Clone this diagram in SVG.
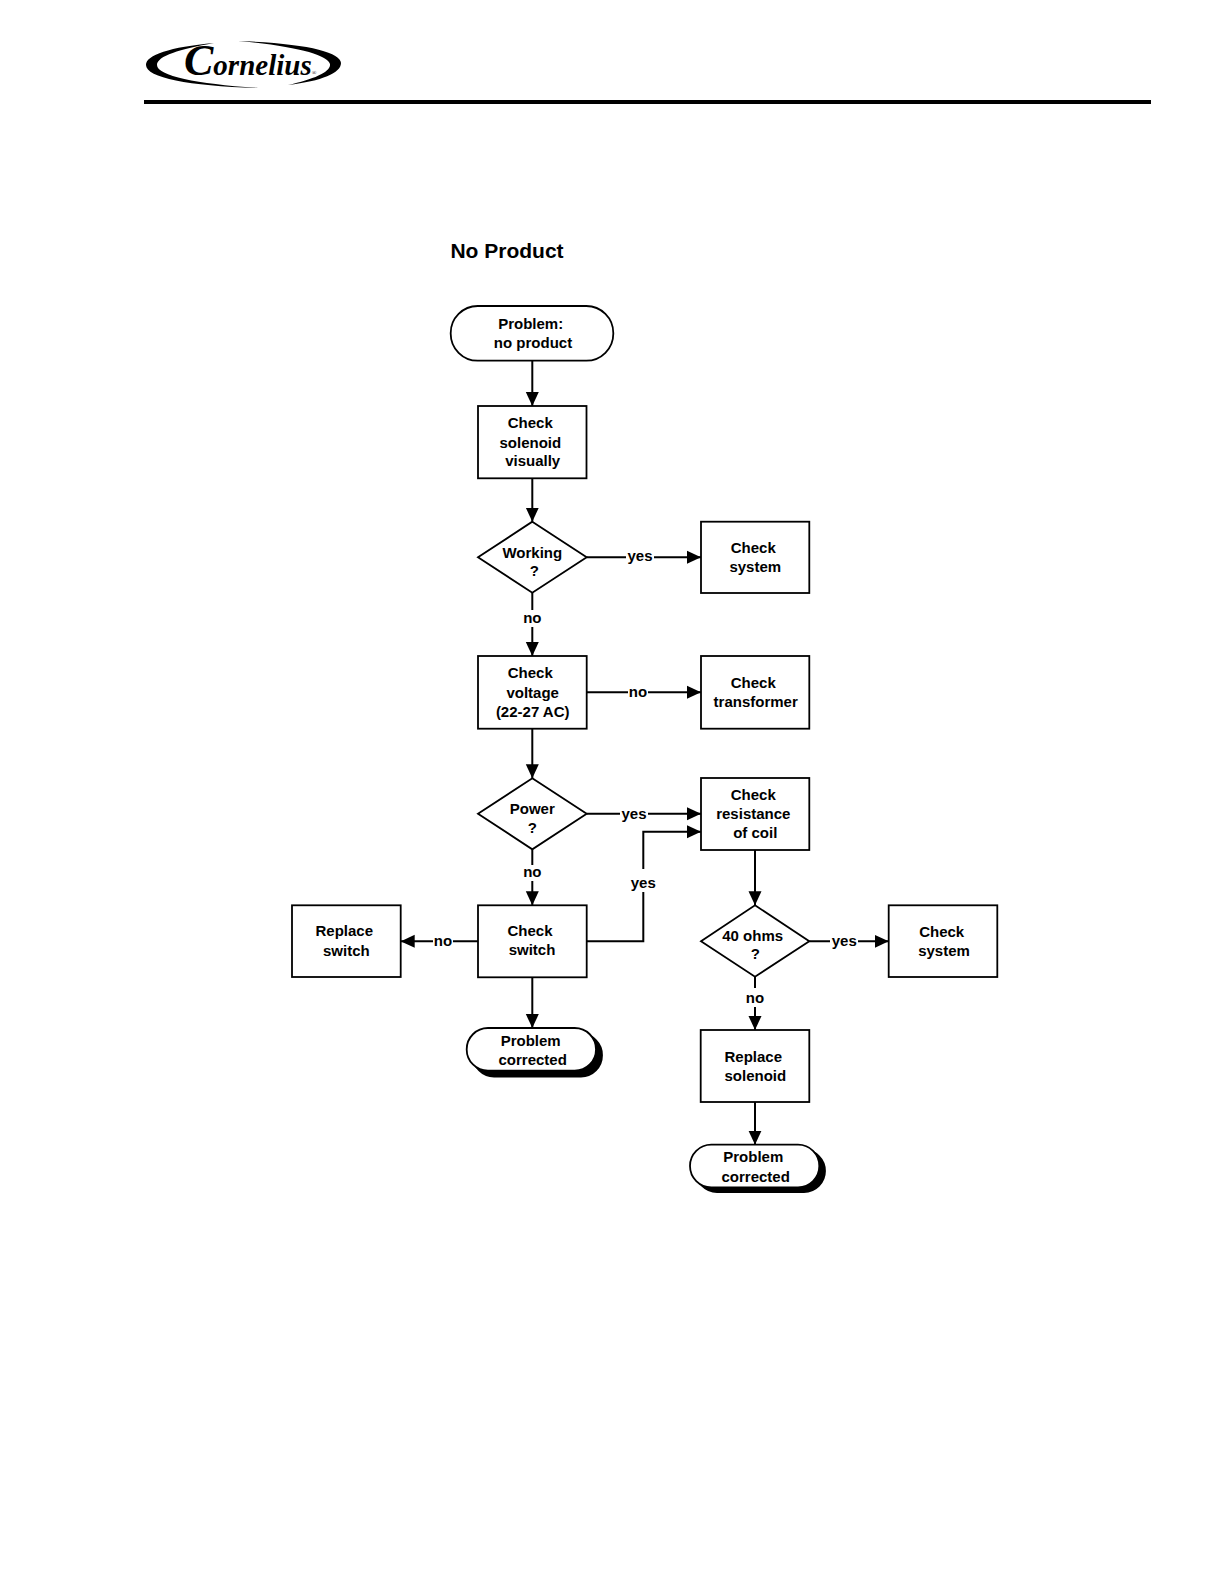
<svg xmlns="http://www.w3.org/2000/svg" width="1224" height="1584" viewBox="0 0 1224 1584">
<style>
.s{fill:#fff;stroke:#000;stroke-width:1.800}
.sh{fill:#000;stroke:#000;stroke-width:1.800}
.c{fill:none;stroke:#000;stroke-width:2}
text{font-family:"Liberation Sans",Arial,sans-serif;font-weight:bold;font-size:15px;fill:#000;text-anchor:middle}
.w{fill:#fff;stroke:none}
</style>
<defs><marker id="a" markerUnits="userSpaceOnUse" markerWidth="14" markerHeight="14" refX="14" refY="7" orient="auto"><path d="M0 0.500L14 7L0 13.500Z" fill="#000"/></marker></defs>
<rect width="1224" height="1584" fill="#fff"/>
<g id="logo">
<path d="M214 43C170 47 146 55 146 65C146 78 190 86 258 88C198 84 157 76 157 65C157 56 180 49 214 43Z" fill="#000"/>
<path d="M238 41C305 43 341 52 341 63C341 73 322 81 288 85C314 79 331 72 330 64C328 55 295 46 238 41Z" fill="#000"/>
<text x="184" y="75" style="font-family:'Liberation Serif',serif;font-style:italic;text-anchor:start"><tspan style="font-size:44px">C</tspan><tspan style="font-size:29px">ornelius</tspan><tspan style="font-size:6px;font-weight:normal">®</tspan></text>
</g>
<rect id="header-rule" x="144" y="100" width="1007" height="4" fill="#000"/>
<text id="title" x="507" y="258" style="font-size:21px">No Product</text>
<g id="connectors">
<path class="c" d="M532.300 360.700V406" marker-end="url(#a)"/>
<path class="c" d="M532.300 478.300V521.700" marker-end="url(#a)"/>
<path class="c" d="M586.700 557.300H701" marker-end="url(#a)"/>
<path class="c" d="M532.300 592.700V656" marker-end="url(#a)"/>
<path class="c" d="M586.700 692.300H701" marker-end="url(#a)"/>
<path class="c" d="M532.300 728.700V778.300" marker-end="url(#a)"/>
<path class="c" d="M586.700 813.700H701" marker-end="url(#a)"/>
<path class="c" d="M532.300 849.300V905.300" marker-end="url(#a)"/>
<path class="c" d="M586.700 941.300H643.300V831.700H701" marker-end="url(#a)"/>
<path class="c" d="M478 941.300H400.700" marker-end="url(#a)"/>
<path class="c" d="M532.300 977.300V1028" marker-end="url(#a)"/>
<path class="c" d="M755 850V905.300" marker-end="url(#a)"/>
<path class="c" d="M809.300 941.300H888.700" marker-end="url(#a)"/>
<path class="c" d="M755 976.700V1030" marker-end="url(#a)"/>
<path class="c" d="M755 1102V1144.700" marker-end="url(#a)"/>
<rect class="w" x="626" y="550" width="28" height="16"/><text x="640" y="561.300">yes</text>
<rect class="w" x="522" y="610" width="20" height="17"/><text x="532.300" y="623.300">no</text>
<rect class="w" x="628" y="685" width="20" height="15"/><text x="638" y="696.700">no</text>
<rect class="w" x="620" y="806" width="28" height="16"/><text x="634" y="819">yes</text>
<rect class="w" x="522" y="865" width="20" height="16"/><text x="532.300" y="876.700">no</text>
<rect class="w" x="631" y="869" width="25" height="23"/><text x="643.300" y="887.700">yes</text>
<rect class="w" x="433" y="934" width="20" height="15"/><text x="443" y="946">no</text>
<rect class="w" x="830" y="934" width="28" height="16"/><text x="844.300" y="945.700">yes</text>
<rect class="w" x="745" y="988" width="20" height="19"/><text x="755" y="1002.700">no</text>
</g>
<g id="start"><rect class="s" x="450.700" y="306" width="162.600" height="54.700" rx="27"/><text x="530.700" y="328.700">Problem:</text><text x="533" y="348">no product</text></g>
<g id="check-solenoid"><rect class="s" x="478" y="406" width="108.500" height="72.300"/><text x="530.300" y="428.300">Check</text><text x="530.300" y="448">solenoid</text><text x="532.700" y="466">visually</text></g>
<g id="working"><path class="s" d="M532.300 521.700L586.700 557.300L532.300 592.700L478 557.300Z"/><text x="532.300" y="557.700">Working</text><text x="534.300" y="576">?</text></g>
<g id="check-system-1"><rect class="s" x="701" y="521.700" width="108.300" height="71.300"/><text x="753.300" y="552.700">Check</text><text x="755.300" y="572">system</text></g>
<g id="check-voltage"><rect class="s" x="478" y="656" width="108.700" height="72.700"/><text x="530.300" y="678.300">Check</text><text x="532.700" y="697.700">voltage</text><text x="532.700" y="716.700">(22-27 AC)</text></g>
<g id="check-transformer"><rect class="s" x="701" y="656" width="108.300" height="72.700"/><text x="753.300" y="688">Check</text><text x="755.700" y="707.300">transformer</text></g>
<g id="power"><path class="s" d="M532.300 778.300L586.700 813.700L532.300 849.300L478 813.700Z"/><text x="532.300" y="813.700">Power</text><text x="532.300" y="832.700">?</text></g>
<g id="check-resistance"><rect class="s" x="701" y="778" width="108.300" height="72"/><text x="753.300" y="800">Check</text><text x="753.300" y="819.300">resistance</text><text x="755.300" y="838.300">of coil</text></g>
<g id="check-switch"><rect class="s" x="478" y="905.300" width="108.700" height="72"/><text x="530" y="936">Check</text><text x="532" y="955.300">switch</text></g>
<g id="replace-switch"><rect class="s" x="292" y="905.300" width="108.700" height="71.700"/><text x="344.300" y="936">Replace</text><text x="346.300" y="955.700">switch</text></g>
<g id="ohms"><path class="s" d="M755 905.300L809.300 941.300L755 976.700L701 941.300Z"/><text x="752.700" y="941">40 ohms</text><text x="755.300" y="959.300">?</text></g>
<g id="check-system-2"><rect class="s" x="888.700" y="905.300" width="108.600" height="71.700"/><text x="941.700" y="936.700">Check</text><text x="944" y="956">system</text></g>
<g id="problem-corrected-1"><rect class="sh" x="473" y="1034" width="129" height="42.500" rx="21"/><rect class="s" x="466.700" y="1028" width="129.300" height="42.700" rx="21.300"/><text x="530.700" y="1046">Problem</text><text x="532.700" y="1065.300">corrected</text></g>
<g id="replace-solenoid"><rect class="s" x="700.700" y="1030" width="108.600" height="72"/><text x="753.300" y="1061.700">Replace</text><text x="755.300" y="1080.700">solenoid</text></g>
<g id="problem-corrected-2"><rect class="sh" x="696" y="1150" width="129" height="42" rx="21"/><rect class="s" x="690" y="1144.700" width="129.300" height="42.600" rx="21.300"/><text x="753.300" y="1162.300">Problem</text><text x="755.700" y="1181.700">corrected</text></g>
</svg>
